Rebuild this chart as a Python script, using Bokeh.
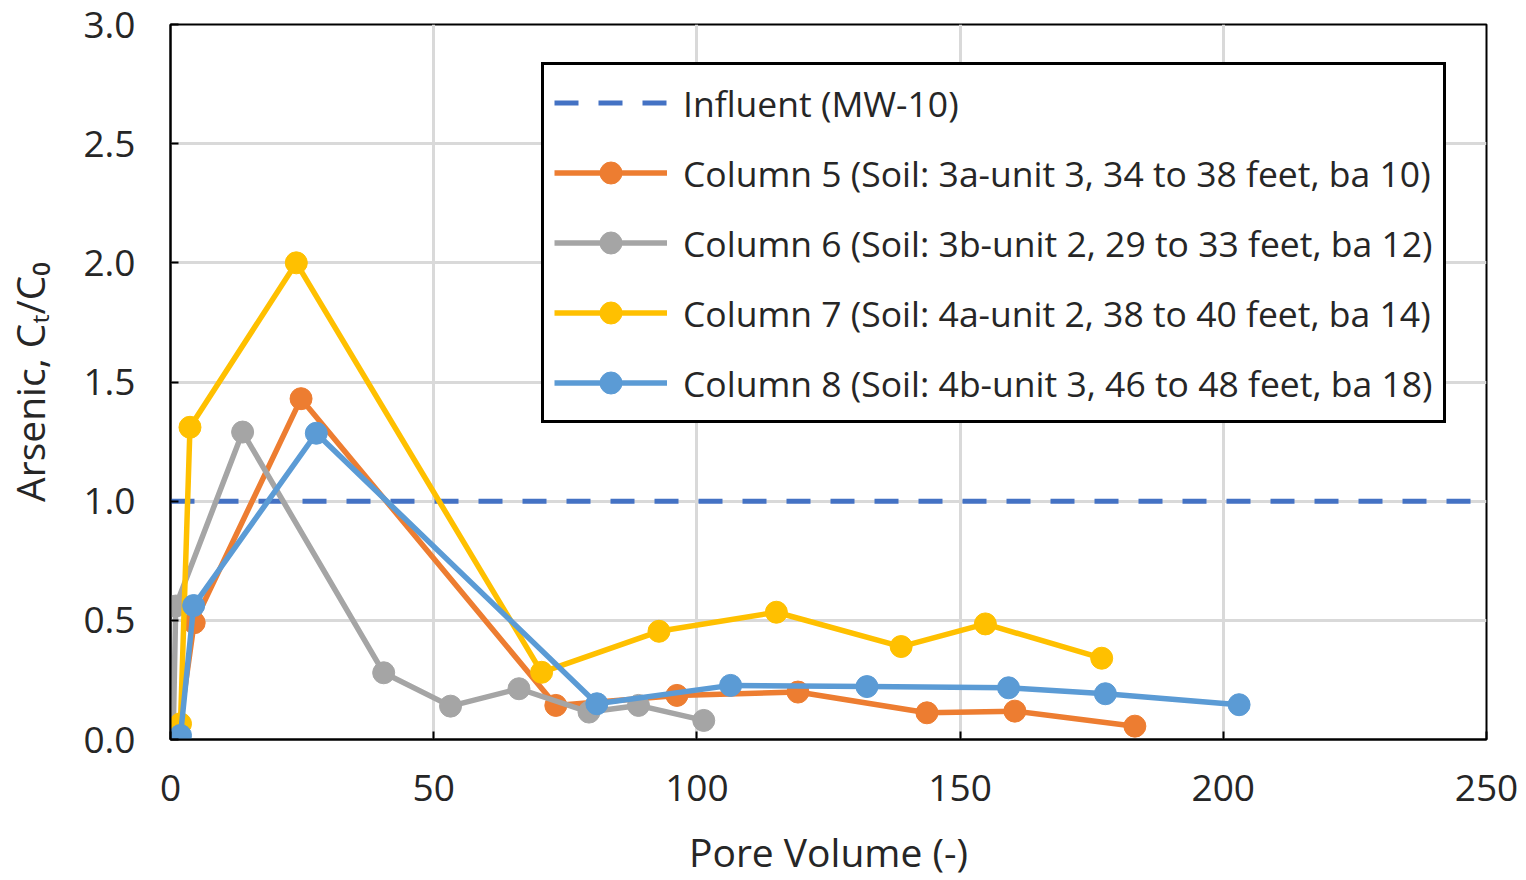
from bokeh.plotting import figure
from bokeh.models import Range1d, FixedTicker, NumeralTickFormatter
from bokeh.embed import file_html
from bokeh.resources import INLINE

# ---- data ----
pv_col5 = [1.5, 4.5, 24.8, 73.2, 96.2, 119.2, 143.7, 160.4, 183.2]
as_col5 = [0.02, 0.49, 1.43, 0.143, 0.185, 0.199, 0.112, 0.119, 0.056]

pv_col6 = [0.5, 1.0, 13.7, 40.5, 53.2, 66.2, 79.5, 88.9, 101.3]
as_col6 = [0.01, 0.56, 1.29, 0.28, 0.14, 0.213, 0.115, 0.143, 0.08]

pv_col7 = [1.9, 3.7, 23.9, 70.5, 92.8, 115.1, 138.8, 154.8, 176.9]
as_col7 = [0.066, 1.31, 2.0, 0.282, 0.454, 0.534, 0.39, 0.485, 0.341]

pv_col8 = [1.9, 4.4, 27.7, 81.0, 106.4, 132.3, 159.2, 177.6, 203.0]
as_col8 = [0.017, 0.562, 1.285, 0.15, 0.227, 0.222, 0.217, 0.192, 0.146]

influent_level = 1.0
x_limits = [0, 250]
y_limits = [0, 3]
x_ticks = [0, 50, 100, 150, 200, 250]
y_ticks = [0.0, 0.5, 1.0, 1.5, 2.0, 2.5, 3.0]

series = [
    ("Column 5 (Soil: 3a-unit 3, 34 to 38 feet, ba 10)", pv_col5, as_col5, "#ED7D31"),
    ("Column 6 (Soil: 3b-unit 2, 29 to 33 feet, ba 12)", pv_col6, as_col6, "#A5A5A5"),
    ("Column 7 (Soil: 4a-unit 2, 38 to 40 feet, ba 14)", pv_col7, as_col7, "#FFC000"),
    ("Column 8 (Soil: 4b-unit 3, 46 to 48 feet, ba 18)", pv_col8, as_col8, "#5B9BD5"),
]

FONT = "Open Sans"
TXT = "#262626"

p = figure(width=1520, height=880, output_backend="svg", toolbar_location=None,
           x_range=Range1d(*x_limits), y_range=Range1d(*y_limits),
           min_border_left=170, min_border_right=34, min_border_top=24,
           min_border_bottom=141)
p.background_fill_color = "white"
p.border_fill_color = "white"
p.outline_line_color = "black"
p.outline_line_width = 2

# influent reference line
p.line(x_limits, [influent_level, influent_level], line_color="#4472C4",
       line_width=5, line_dash="24 20", legend_label="Influent (MW-10)")

for label, xs, ys, col in series:
    p.line(xs, ys, line_color=col, line_width=5.5, legend_label=label)
    p.scatter(xs, ys, size=22, fill_color=col, line_color=col, legend_label=label)

# axes
p.xaxis.ticker = FixedTicker(ticks=x_ticks)
p.yaxis.ticker = FixedTicker(ticks=y_ticks)
p.yaxis.formatter = NumeralTickFormatter(format="0.0")
for ax in (p.xaxis[0], p.yaxis[0]):
    ax.axis_line_color = "black"
    ax.axis_line_width = 2
    ax.major_tick_in = 8
    ax.major_tick_out = 0
    ax.major_tick_line_color = "black"
    ax.major_tick_line_width = 2
    ax.minor_tick_line_color = None
    ax.major_label_text_font = FONT
    ax.major_label_text_font_size = "37px"
    ax.major_label_text_color = TXT
    ax.axis_label_text_font = FONT
    ax.axis_label_text_font_size = "39px"
    ax.axis_label_text_font_style = "normal"
    ax.axis_label_text_color = TXT

p.xaxis.axis_label = "Pore Volume (-)"
p.yaxis.axis_label = "Arsenic, C\u209c/C\u2080"
p.xaxis.major_label_standoff = 35
p.yaxis.major_label_standoff = 35
p.xaxis.axis_label_standoff = 21
p.yaxis.axis_label_standoff = 24

p.xgrid.grid_line_color = "#D9D9D9"
p.ygrid.grid_line_color = "#D9D9D9"
p.xgrid.grid_line_width = 3
p.ygrid.grid_line_width = 3

# legend
lg = p.legend[0]
lg.location = (371, 316)
lg.border_line_color = "black"
lg.border_line_alpha = 1.0
lg.border_line_width = 3
lg.background_fill_color = "white"
lg.background_fill_alpha = 1.0
lg.label_text_font = FONT
lg.label_text_font_size = "35.5px"
lg.label_text_color = TXT
lg.label_height = 55
lg.glyph_height = 55
lg.glyph_width = 113
lg.label_standoff = 16
lg.spacing = 15
lg.padding = 10
lg.margin = 0

open("out.html", "w").write(file_html(p, INLINE))
